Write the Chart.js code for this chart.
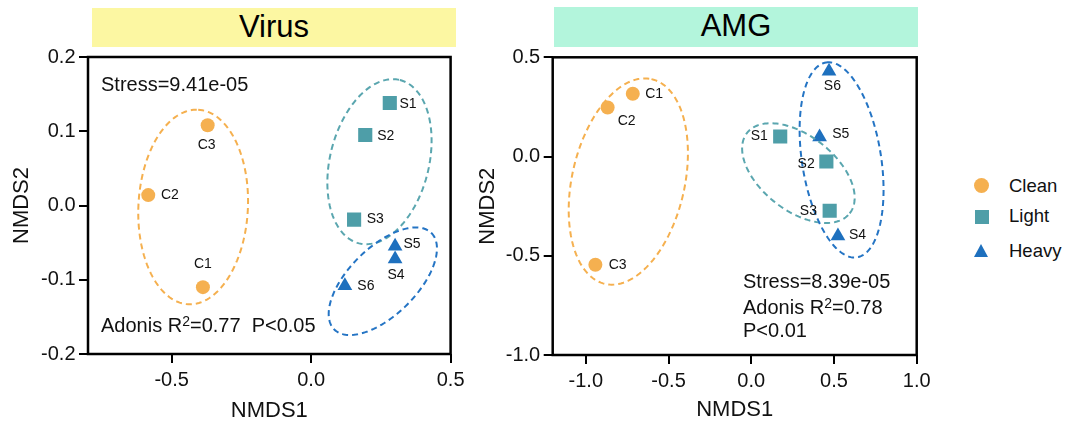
<!DOCTYPE html>
<html>
<head>
<meta charset="utf-8">
<script src="https://cdn.jsdelivr.net/npm/chart.js@4.4.1/dist/chart.umd.min.js"></script>
<style>
  html, body { margin:0; padding:0; background:#fff; }
  #wrap { position:relative; width:1070px; height:427px; background:#fff; overflow:hidden;
          font-family:'Liberation Sans', Arial, sans-serif; color:#000; }
  .banner { position:absolute; text-align:center; font-size:31px; line-height:37px; color:#000; }
  .note { position:absolute; font-size:20px; line-height:24px; white-space:nowrap; color:#111; }
  .note sup { font-size:14px; line-height:0; vertical-align:6px; }
  .lgtext { position:absolute; font-size:18.5px; line-height:22px; white-space:nowrap; color:#111; }
  canvas { position:absolute; top:0; }
</style>
</head>
<body>
<div id="wrap">
  <div class="banner" style="left:92px;top:8px;width:364px;height:39px;background:#FCF7A2;">Virus</div>
  <div class="banner" style="left:554px;top:7px;width:364px;height:40px;background:#B3F5DC;">AMG</div>
  <canvas id="c1" width="470" height="427" style="left:0px;width:470px;height:427px;"></canvas>
  <canvas id="c2" width="470" height="427" style="left:470px;width:470px;height:427px;"></canvas>

  <div class="note" style="left:101px;top:72px;">Stress=9.41e-05</div>
  <div class="note" style="left:101px;top:313px;">Adonis R<sup>2</sup>=0.77&nbsp;&nbsp;P&lt;0.05</div>
  <div class="note" style="left:743px;top:268.5px;">Stress=8.39e-05</div>
  <div class="note" style="left:743px;top:295px;">Adonis R<sup>2</sup>=0.78</div>
  <div class="note" style="left:743px;top:318px;">P&lt;0.01</div>

  <div style="position:absolute;left:974.2px;top:177.5px;width:15px;height:15px;border-radius:50%;background:#F5B050;"></div>
  <div style="position:absolute;left:974.7px;top:209.7px;width:14px;height:14px;background:#4E9EA8;"></div>
  <div style="position:absolute;left:974.2px;top:244px;width:0;height:0;border-left:7.5px solid transparent;border-right:7.5px solid transparent;border-bottom:13px solid #1E70BE;"></div>
  <div class="lgtext" style="left:1009px;top:175px;">Clean</div>
  <div class="lgtext" style="left:1009px;top:205px;">Light</div>
  <div class="lgtext" style="left:1009px;top:240px;">Heavy</div>
</div>
<script>
// ---------------- DATA ----------------
const groupNames = ['Clean', 'Light', 'Heavy'];
const cleanLabels = ['C1', 'C2', 'C3'];
const lightLabels = ['S1', 'S2', 'S3'];
const heavyLabels = ['S4', 'S5', 'S6'];

// Virus NMDS
const virusCleanX = [-0.388, -0.584, -0.371];
const virusCleanY = [-0.110, 0.014, 0.108];
const virusLightX = [0.282, 0.194, 0.154];
const virusLightY = [0.138, 0.095, -0.019];
const virusHeavyX = [0.301, 0.301, 0.121];
const virusHeavyY = [-0.072, -0.055, -0.108];

// AMG NMDS
const amgCleanX = [-0.716, -0.868, -0.942];
const amgCleanY = [0.316, 0.247, -0.545];
const amgLightX = [0.175, 0.454, 0.474];
const amgLightY = [0.101, -0.025, -0.273];
const amgHeavyX = [0.524, 0.413, 0.470];
const amgHeavyY = [-0.400, 0.099, 0.430];

// Tick values
const virusXTicks = [-0.5, 0.0, 0.5];
const virusYTicks = [-0.2, -0.1, 0.0, 0.1, 0.2];
const amgXTicks = [-1.0, -0.5, 0.0, 0.5, 1.0];
const amgYTicks = [-1.0, -0.5, 0.0, 0.5];

// Group ellipses (data units): centre, semi-axis vector u, semi-axis vector v
const virusEllipseCenters = [[-0.423, -0.002], [0.245, 0.059], [0.257, -0.102]];
const virusEllipseU = [[0.018, 0.131], [0.073, 0.110], [0.174, 0.065]];
const virusEllipseV = [[0.196, -0.004], [0.172, -0.016], [0.086, -0.032]];
const amgEllipseCenters = [[-0.743, -0.126], [0.285, -0.0835], [0.546, -0.017]];
const amgEllipseU = [[0.140, 0.516], [0.310, -0.203], [-0.093, 0.491]];
const amgEllipseV = [[0.332, -0.062], [0.140, 0.148], [0.236, 0.031]];

// ---------------- STYLE ----------------
const colors = ['#F5B050', '#4E9EA8', '#1E70BE'];
const ellipseColors = ['#F5B04F', '#5AA6AF', '#2474C4'];
const pointStyles = ['circle', 'rect', 'triangle'];
const pointRadii = [7, 10, 8.5];
const FONT = "'Liberation Sans', Arial, sans-serif";
Chart.defaults.font.family = FONT;

// label placement (pixel offsets, styling only)
const virusLabelPlace = [
  [{dx:0, dy:-23, a:'center'}, {dx:12.7, dy:0, a:'left'}, {dx:-1, dy:20, a:'center'}],
  [{dx:9.7, dy:1, a:'left'}, {dx:12, dy:0.7, a:'left'}, {dx:12.6, dy:0, a:'left'}],
  [{dx:1, dy:16, a:'center'}, {dx:8.3, dy:-2.3, a:'left'}, {dx:12.4, dy:0, a:'left'}]
];
const amgLabelPlace = [
  [{dx:12.4, dy:0, a:'left'}, {dx:10, dy:14, a:'left'}, {dx:13.3, dy:0, a:'left'}],
  [{dx:-12.4, dy:0, a:'right'}, {dx:-11.7, dy:3, a:'right'}, {dx:-12.7, dy:0, a:'right'}],
  [{dx:11, dy:-1, a:'left'}, {dx:12.7, dy:-3, a:'left'}, {dx:3.4, dy:15, a:'center'}]
];

function zip(xs, ys) { return xs.map((x, i) => ({x: x, y: ys[i]})); }

const ellipsePlugin = {
  id: 'ellipses',
  afterDatasetsDraw(chart, args, opts) {
    const ctx = chart.ctx, xs = chart.scales.x, ys = chart.scales.y;
    ctx.save();
    opts.centers.forEach((c, k) => {
      const u = opts.u[k], v = opts.v[k];
      ctx.beginPath();
      const N = 160;
      for (let i = 0; i <= N; i++) {
        const t = i / N * Math.PI * 2;
        const dx = c[0] + u[0] * Math.cos(t) + v[0] * Math.sin(t);
        const dy = c[1] + u[1] * Math.cos(t) + v[1] * Math.sin(t);
        const px = xs.getPixelForValue(dx), py = ys.getPixelForValue(dy);
        if (i === 0) ctx.moveTo(px, py); else ctx.lineTo(px, py);
      }
      ctx.closePath();
      ctx.setLineDash([6, 4]);
      ctx.lineWidth = 2;
      ctx.strokeStyle = ellipseColors[k];
      ctx.stroke();
    });
    ctx.restore();
  }
};

const labelPlugin = {
  id: 'ptlabels',
  afterDatasetsDraw(chart, args, opts) {
    const ctx = chart.ctx;
    ctx.save();
    ctx.font = '14px ' + FONT;
    ctx.fillStyle = '#111';
    ctx.textBaseline = 'middle';
    chart.data.datasets.forEach((ds, di) => {
      const meta = chart.getDatasetMeta(di);
      meta.data.forEach((el, i) => {
        const p = opts.place[di][i];
        ctx.textAlign = p.a;
        ctx.fillText(opts.names[di][i], el.x + p.dx, el.y + p.dy);
      });
    });
    ctx.restore();
  }
};

const framePlugin = {
  id: 'frame',
  afterDraw(chart) {
    const a = chart.chartArea, ctx = chart.ctx;
    ctx.save();
    ctx.lineWidth = 2.5;
    ctx.strokeStyle = '#000';
    ctx.setLineDash([]);
    ctx.strokeRect(a.left, a.top, a.right - a.left, a.bottom - a.top);
    ctx.restore();
  }
};

function makeChart(id, series, xr, yr, xt, yt, fit, ell, place) {
  const datasets = series.map((s, k) => ({
    label: groupNames[k],
    data: zip(s[0], s[1]),
    pointStyle: pointStyles[k],
    pointRadius: pointRadii[k],
    pointHoverRadius: pointRadii[k],
    backgroundColor: colors[k],
    borderColor: colors[k],
    borderWidth: 0
  }));
  const tickFont = {family: FONT, size: 20};
  const titleFont = {family: FONT, size: 22};
  return new Chart(document.getElementById(id), {
    type: 'scatter',
    data: {datasets},
    options: {
      animation: false, responsive: false, devicePixelRatio: 1,
      layout: {padding: {left: 0, top: fit.top, right: fit.right, bottom: 0}},
      plugins: {
        legend: {display: false}, tooltip: {enabled: false},
        ellipses: ell,
        ptlabels: {place: place, names: [cleanLabels, lightLabels, heavyLabels]}
      },
      scales: {
        x: {
          type: 'linear', min: xr[0], max: xr[1],
          afterBuildTicks: s => { s.ticks = xt.map(v => ({value: v})); },
          afterFit: s => { s.height = fit.xh; },
          grid: {display: true, drawOnChartArea: false, drawTicks: true, tickLength: 9, color: '#000', lineWidth: 2},
          border: {display: false},
          ticks: {color: '#111', font: tickFont, padding: 5.5, maxRotation: 0, autoSkip: false,
                  callback: v => Number(v).toFixed(1)},
          title: {display: true, text: 'NMDS1', color: '#111', font: titleFont, padding: {top: 0, bottom: fit.xtp}}
        },
        y: {
          type: 'linear', min: yr[0], max: yr[1],
          afterBuildTicks: s => { s.ticks = yt.map(v => ({value: v})); },
          afterFit: s => { s.width = fit.yw; },
          grid: {display: true, drawOnChartArea: false, drawTicks: true, tickLength: 9, color: '#000', lineWidth: 2},
          border: {display: false},
          ticks: {color: '#111', font: tickFont, padding: 3.5, autoSkip: false,
                  callback: v => Number(v).toFixed(1)},
          title: {display: true, text: 'NMDS2', color: '#111', font: titleFont, padding: {top: fit.ytp, bottom: 0}}
        }
      }
    },
    plugins: [ellipsePlugin, labelPlugin, framePlugin]
  });
}

makeChart('c1',
  [[virusCleanX, virusCleanY], [virusLightX, virusLightY], [virusHeavyX, virusHeavyY]],
  [-0.8, 0.5], [-0.2, 0.2], virusXTicks, virusYTicks,
  {top: 57, right: 18.5, xh: 73, yw: 88, xtp: 2.8, ytp: 8.8},
  {centers: virusEllipseCenters, u: virusEllipseU, v: virusEllipseV},
  virusLabelPlace);

makeChart('c2',
  [[amgCleanX, amgCleanY], [amgLightX, amgLightY], [amgHeavyX, amgHeavyY]],
  [-1.2, 1.0], [-1.0, 0.5], amgXTicks, amgYTicks,
  {top: 57.3, right: 23.3, xh: 72, yw: 82.7, xtp: 3.8, ytp: 4.8},
  {centers: amgEllipseCenters, u: amgEllipseU, v: amgEllipseV},
  amgLabelPlace);
</script>
</body>
</html>
